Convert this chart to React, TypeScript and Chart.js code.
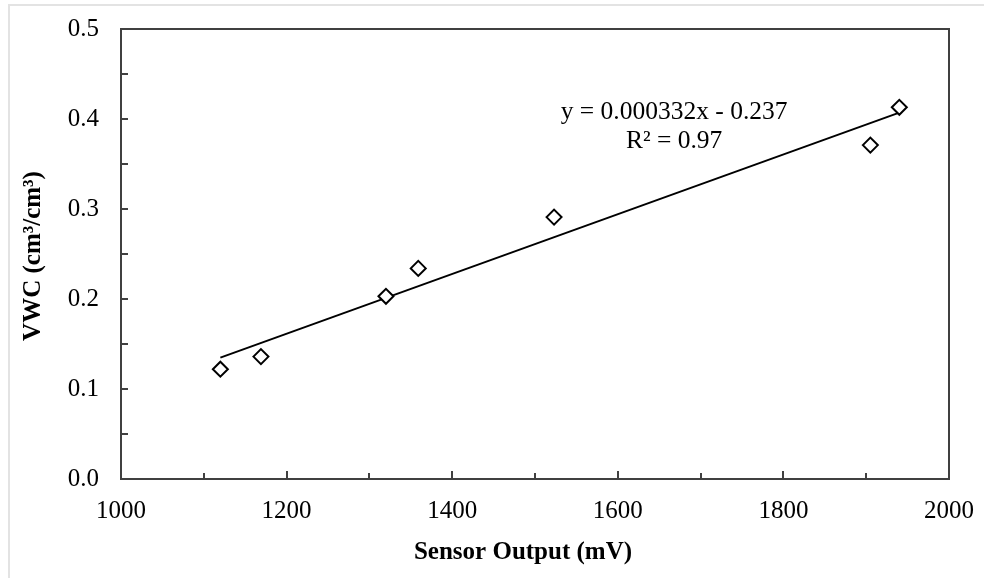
import React, { useEffect, useRef } from "react";
import { Chart, registerables } from "chart.js";

Chart.register(...registerables);

const sensorOutput = [1120, 1169, 1320, 1359, 1523, 1905, 1940];
const vwc = [0.122, 0.136, 0.203, 0.234, 0.291, 0.371, 0.413];
const slope = 0.000332;
const intercept = -0.237;
const trendRange = [1120, 1940];
const xTickMajor = [1000, 1200, 1400, 1600, 1800, 2000];
const equationText = "y = 0.000332x - 0.237";
const r2Text = "R² = 0.97";
const xTitle = "Sensor Output (mV)";
const yTitle = "VWC (cm³/cm³)";

const FONT = "'Liberation Serif', 'Times New Roman', serif";

const framePlugin = {
  id: "framePlugin",
  beforeDraw(chart: any) {
    const ctx = chart.ctx;
    ctx.save();
    ctx.strokeStyle = "#e3e3e3";
    ctx.lineWidth = 2;
    ctx.strokeRect(9, 5, 990, 600);
    ctx.restore();
  },
  beforeDatasetsDraw(chart: any) {
    const { ctx, chartArea } = chart;
    const xs = chart.scales.x;
    const ys = chart.scales.y;
    ctx.save();
    ctx.strokeStyle = "#404040";
    ctx.lineWidth = 2;
    ctx.strokeRect(chartArea.left, chartArea.top, chartArea.right - chartArea.left, chartArea.bottom - chartArea.top);
    ctx.beginPath();
    for (let v = xs.min + 100; v < xs.max; v += 100) {
      const px = Math.round(xs.getPixelForValue(v));
      const major = Math.round(v) % 200 === 0;
      ctx.moveTo(px, chartArea.bottom);
      ctx.lineTo(px, chartArea.bottom - (major ? 8 : 6));
    }
    for (let i = 1; i < 10; i++) {
      const v = ys.min + i * 0.05;
      const py = Math.round(ys.getPixelForValue(v));
      ctx.moveTo(chartArea.left, py);
      ctx.lineTo(chartArea.left + 7, py);
    }
    ctx.stroke();
    ctx.restore();
  },
  afterDraw(chart: any) {
    const { ctx, chartArea } = chart;
    const xs = chart.scales.x;
    const ys = chart.scales.y;
    ctx.save();
    ctx.fillStyle = "#000";
    ctx.textAlign = "center";
    ctx.textBaseline = "middle";
    ctx.font = `25.5px ${FONT}`;
    const tx = xs.getPixelForValue(1668);
    ctx.fillText(equationText, tx, ys.getPixelForValue(0.408));
    ctx.fillText(r2Text, tx, ys.getPixelForValue(0.375));
    ctx.font = `bold 25px ${FONT}`;
    ctx.fillText(xTitle, (chartArea.left + chartArea.right) / 2 - 12, 553);
    ctx.translate(34, (chartArea.top + chartArea.bottom) / 2 + 2);
    ctx.rotate(-Math.PI / 2);
    ctx.fillText(yTitle, 0, 0);
    ctx.restore();
  },
};

export default function App() {
  const ref = useRef<HTMLCanvasElement>(null);
  useEffect(() => {
    if (!ref.current) return;
    const chart = new Chart(ref.current, {
      type: "scatter",
      data: {
        datasets: [
          {
            label: "VWC",
            data: sensorOutput.map((x, i) => ({ x, y: vwc[i] })),
            pointStyle: "rectRot",
            pointRadius: 7.5,
            pointHoverRadius: 7.5,
            borderWidth: 2,
            borderColor: "#000",
            backgroundColor: "#fff",
          },
          {
            label: "Trend",
            data: trendRange.map((x) => ({ x, y: slope * x + intercept })),
            showLine: true,
            pointRadius: 0,
            borderWidth: 2,
            borderColor: "#000",
            backgroundColor: "#000",
          } as any,
        ],
      },
      options: {
        animation: false,
        responsive: true,
        maintainAspectRatio: false,
        layout: { padding: { top: 29, right: 35, left: 0, bottom: 0 } },
        plugins: { legend: { display: false }, tooltip: { enabled: false } },
        scales: {
          x: {
            type: "linear",
            min: 1000,
            max: 2000,
            afterBuildTicks: (s: any) => {
              s.ticks = xTickMajor.map((v) => ({ value: v }));
            },
            afterFit: (s: any) => {
              s.height = 99;
              s.paddingLeft = 0;
              s.paddingRight = 0;
            },
            ticks: {
              font: { size: 25, family: FONT },
              color: "#000",
              padding: 17,
              maxRotation: 0,
              autoSkip: false,
              callback: (v: any) => String(v),
            },
            grid: { drawOnChartArea: false, drawTicks: false },
            border: { display: false },
          },
          y: {
            type: "linear",
            min: 0,
            max: 0.5,
            afterFit: (s: any) => {
              s.width = 121;
              s.paddingTop = 0;
              s.paddingBottom = 0;
            },
            ticks: {
              stepSize: 0.1,
              font: { size: 25, family: FONT },
              color: "#000",
              padding: 22,
              callback: (v: any) => Number(v).toFixed(1),
            },
            grid: { drawOnChartArea: false, drawTicks: false },
            border: { display: false },
          },
        },
      },
      plugins: [framePlugin],
    });
    return () => chart.destroy();
  }, []);
  return (
    <div style={{ position: "fixed", left: 0, top: 0, width: 984, height: 578, background: "#fff" }}>
      <canvas ref={ref} />
    </div>
  );
}
